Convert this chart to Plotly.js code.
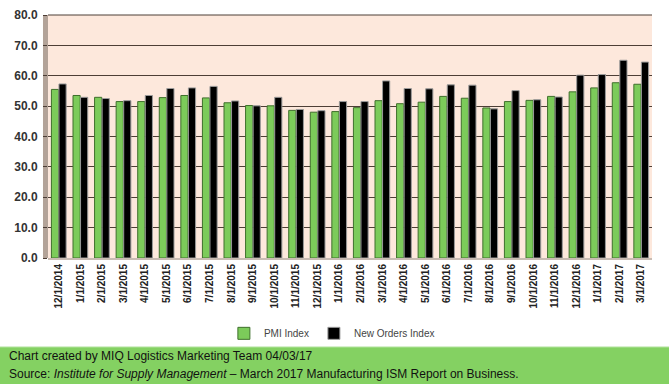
<!DOCTYPE html>
<html>
<head>
<meta charset="utf-8">
<script src="https://cdn.plot.ly/plotly-3.0.1.min.js"></script>
<style>html,body{margin:0;padding:0;background:#fff;}#chart{width:669px;height:384px;}</style>
</head>
<body>
<div id="chart"></div>
<script>
const months = ["12/1/2014","1/1/2015","2/1/2015","3/1/2015","4/1/2015","5/1/2015","6/1/2015","7/1/2015","8/1/2015","9/1/2015","10/1/2015","11/1/2015","12/1/2015","1/1/2016","2/1/2016","3/1/2016","4/1/2016","5/1/2016","6/1/2016","7/1/2016","8/1/2016","9/1/2016","10/1/2016","11/1/2016","12/1/2016","1/1/2017","2/1/2017","3/1/2017"];
const pmiIndex = [55.5,53.5,52.9,51.5,51.5,52.8,53.5,52.7,51.1,50.2,50.1,48.6,48.0,48.2,49.5,51.8,50.8,51.3,53.2,52.6,49.4,51.5,51.9,53.2,54.7,56.0,57.7,57.2];
const newOrdersIndex = [57.3,52.9,52.5,51.8,53.5,55.8,56.0,56.5,51.7,50.1,52.9,48.9,48.5,51.5,51.5,58.3,55.8,55.7,57.0,56.9,49.1,55.1,52.1,53.0,60.2,60.4,65.1,64.5];
const seriesNames = ["PMI Index","New Orders Index"];
const footerLine1 = "Chart created by MIQ Logistics Marketing Team 04/03/17";
const footerLine2 = "Source: <i>Institute for Supply Management</i> – March 2017 Manufacturing ISM Report on Business.";

const traces = [
  {type:"bar", name:seriesNames[0], x:months, y:pmiIndex,
   marker:{color:"#7ccb5a", line:{color:"#3f6f2c", width:1}}},
  {type:"bar", name:seriesNames[1], x:months, y:newOrdersIndex,
   marker:{color:"#000000", line:{color:"#9a9a9a", width:1}}}
];

const layout = {
  width:669, height:384,
  margin:{l:48, r:17, t:15, b:126},
  paper_bgcolor:"#ffffff",
  plot_bgcolor:"#fde8dc",
  barmode:"group", bargap:0.3, bargroupgap:0.05,
  font:{family:"Arial, 'Liberation Sans', sans-serif", color:"#333"},
  showlegend:true,
  legend:{orientation:"h", x:0.47, xanchor:"center", y:-0.31, yanchor:"middle",
          font:{size:10, color:"#444"}, tracegroupgap:0, bgcolor:"rgba(0,0,0,0)"},
  xaxis:{type:"category", tickangle:-90, tickfont:{size:10, color:"#222", weight:"bold"},
         showgrid:false, showline:true, linecolor:"#c9bcb3", linewidth:2, ticks:"", automargin:false},
  yaxis:{range:[0,80], dtick:10, tickformat:".1f", showgrid:true, gridcolor:"#4d3e36", gridwidth:1,
         tickfont:{size:12, color:"#333", weight:"bold"}, ticks:"outside", ticklen:4, tickcolor:"#4d3e36",
         ticklabelstandoff:3, zeroline:false, showline:false, automargin:false},
  shapes:[
    {type:"rect", xref:"paper", yref:"paper", x0:-0.0083, x1:0, y0:0, y1:1, fillcolor:"#b3a398", line:{width:0}, layer:"below"},
    {type:"line", xref:"paper", yref:"paper", x0:0, x1:1, y0:1, y1:1, line:{color:"#4d3e36", width:1}},
    {type:"rect", xref:"paper", yref:"paper", x0:-0.0795, x1:1.03, y0:-0.366, y1:-0.53, fillcolor:"#84d162", line:{width:0}},
    {type:"line", xref:"paper", yref:"paper", x0:-0.0795, x1:1.03, y0:-0.366, y1:-0.366, line:{color:"#b8e5a4", width:1}}
  ],
  annotations:[
    {xref:"paper", yref:"paper", x:-0.0679, y:-0.405, xanchor:"left", yanchor:"middle", showarrow:false,
     text:footerLine1, font:{size:12, color:"#111"}},
    {xref:"paper", yref:"paper", x:-0.0679, y:-0.477, xanchor:"left", yanchor:"middle", showarrow:false,
     text:footerLine2, font:{size:12, color:"#111"}}
  ]
};
Plotly.newPlot("chart", traces, layout, {displayModeBar:false, staticPlot:true});
</script>
</body>
</html>
